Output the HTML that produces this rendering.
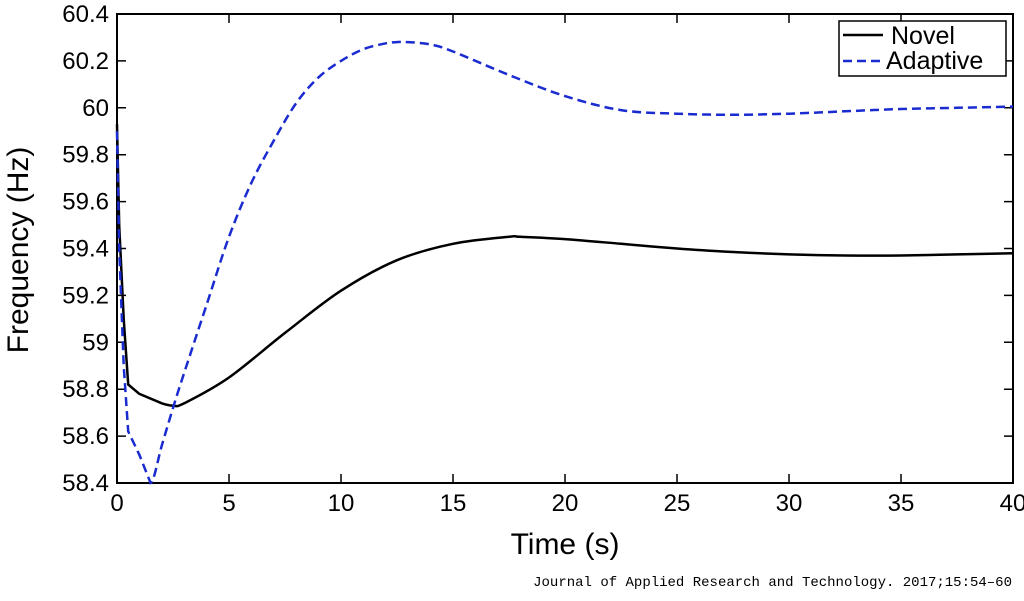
<!DOCTYPE html>
<html><head><meta charset="utf-8"><style>body{margin:0;background:#fff}svg{display:block}text{font-family:"Liberation Sans",sans-serif}</style></head>
<body>
<svg id="c" width="1024" height="601" xmlns="http://www.w3.org/2000/svg"></svg>
<script>
const xTicks=[0,5,10,15,20,25,30,35,40];
const yTicks=[58.4,58.6,58.8,59,59.2,59.4,59.6,59.8,60,60.2,60.4];
const yTickLabels=["58.4","58.6","58.8","59","59.2","59.4","59.6","59.8","60","60.2","60.4"];
const novelT=[0,0.1,0.3,0.5,1,2,2.5,3,5,7.5,10,12.5,15,17.5,18,20,22.5,25,27.5,30,32.5,35,37.5,40];
const novelF=[59.93,59.5,59.1,58.82,58.78,58.74,58.73,58.74,58.85,59.04,59.22,59.35,59.42,59.45,59.45,59.44,59.42,59.40,59.385,59.375,59.37,59.37,59.375,59.38];
const adaptT=[0,0.1,0.3,0.5,1,1.5,2,2.5,3,4,5,6,7,8,9,10,11,12,12.5,13,14,15,17.5,20,22.5,25,27.5,30,32.5,35,37.5,40];
const adaptF=[59.9,59.4,58.9,58.62,58.52,58.4,58.56,58.72,58.87,59.16,59.45,59.68,59.86,60.02,60.13,60.2,60.25,60.275,60.28,60.28,60.27,60.24,60.14,60.05,59.99,59.975,59.97,59.975,59.985,59.995,60.0,60.005];
const L=117,R=1013,T=14,B=483;
const xs=v=>L+(v-0)/40*(R-L), ys=v=>B-(v-58.4)/2*(B-T);
const svg=document.getElementById('c'),NS='http://www.w3.org/2000/svg';
function mk(tag,at,txt){const e=document.createElementNS(NS,tag);for(const k in at)e.setAttribute(k,at[k]);if(txt!=null)e.textContent=txt;svg.appendChild(e);return e;}
function smooth(t,f){const p=t.map((v,i)=>[xs(v),ys(f[i])]);let d=`M${p[0][0]},${p[0][1]}`;
 for(let i=0;i<p.length-1;i++){const p0=p[Math.max(0,i-1)],p1=p[i],p2=p[i+1],p3=p[Math.min(p.length-1,i+2)];
  const c1=[p1[0]+(p2[0]-p0[0])/6,p1[1]+(p2[1]-p0[1])/6],c2=[p2[0]-(p3[0]-p1[0])/6,p2[1]-(p3[1]-p1[1])/6];
  if(i<5){d+=`L${p2[0].toFixed(1)},${p2[1].toFixed(1)}`;}else d+=`C${c1[0].toFixed(1)},${c1[1].toFixed(1)} ${c2[0].toFixed(1)},${c2[1].toFixed(1)} ${p2[0].toFixed(1)},${p2[1].toFixed(1)}`;}
 return d;}
let e;
e=mk('rect',{x:L,y:T,width:R-L,height:B-T,fill:'none',stroke:'#000','stroke-width':2});


xTicks.forEach(v=>{const x=xs(v);
 e=mk('path',{d:`M${x},${B}V${B-9}M${x},${T}V${T+9}`,stroke:'#000','stroke-width':1.5});
 
 
 e=mk('text',{x:x,y:B+28,'font-size':24,'text-anchor':'middle'},String(v));
 
 });
yTicks.forEach((v,i)=>{const y=ys(v);
 e=mk('path',{d:`M${L},${y}H${L+9}M${R},${y}H${R-9}`,stroke:'#000','stroke-width':1.5});
 
 
 e=mk('text',{x:L-8,y:y+8,'font-size':24,'text-anchor':'end'},yTickLabels[i]);
 
 });
e=mk('text',{x:565,y:554,'font-size':30,'text-anchor':'middle'},'Time (s)');


e=mk('text',{x:28,y:250,'font-size':30,'text-anchor':'middle',transform:'rotate(-90 28 250)'},'Frequency (Hz)');


e=mk('path',{d:smooth(novelT,novelF),fill:'none',stroke:'#000','stroke-width':2.5,'stroke-linejoin':'round'});


e=mk('path',{d:smooth(adaptT,adaptF),fill:'none',stroke:'#1a2bd0','stroke-width':2.5,'stroke-dasharray':'9 5'});


e=mk('rect',{x:839,y:21,width:167,height:55,fill:'#fff',stroke:'#000','stroke-width':1.5});


e=mk('line',{x1:843,y1:35,x2:883,y2:35,stroke:'#000','stroke-width':2.5});


e=mk('text',{x:891,y:44,'font-size':25},'Novel');


e=mk('line',{x1:843,y1:61,x2:883,y2:61,stroke:'#1a2bd0','stroke-width':2.5,'stroke-dasharray':'9 5'});


e=mk('text',{x:886,y:69,'font-size':25},'Adaptive');


e=mk('text',{x:1012,y:586,'font-size':14,'text-anchor':'end',style:'font-family:"Liberation Mono",monospace'},'Journal of Applied Research and Technology. 2017;15:54–60');


</script>
</body></html>
